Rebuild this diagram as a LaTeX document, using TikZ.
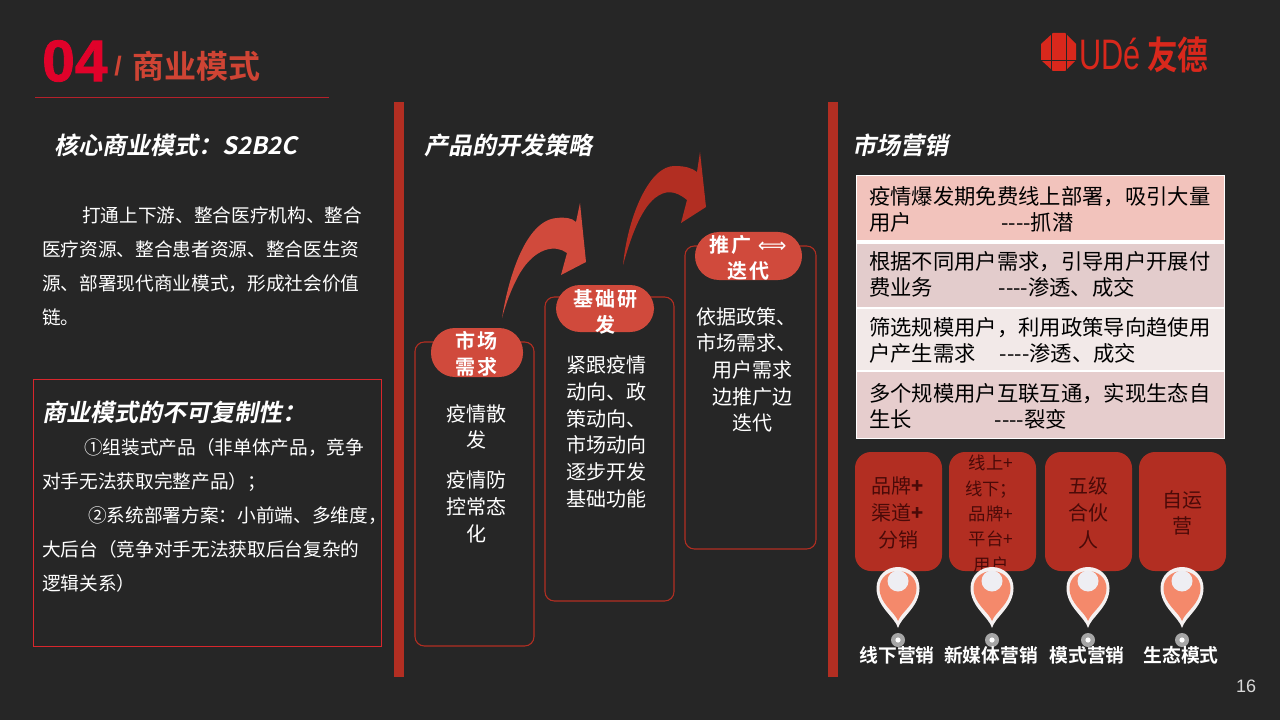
\documentclass[tikz,border=0pt]{standalone}
\usepackage{fontspec}
\setmainfont{Liberation Sans}
\newfontfamily\numfont[FakeBold=1.5]{Liberation Sans Bold}
\newfontfamily\cjk{Noto Sans CJK SC}
\newfontfamily\cjkbold{Noto Sans CJK SC Bold}
\newfontfamily\cjkhead[FakeSlant=0.2]{Noto Sans CJK SC Bold}
\newfontfamily\cjkwide[LetterSpace=10]{Noto Sans CJK SC Bold}
\newfontfamily\arrowfont{DejaVu Sans}
% full width punctuation
\newcommand\cnc{\char"FF0C\relax}
\newcommand\cncolon{\char"FF1A\relax}
\newcommand\cnsemi{\char"FF1B\relax}
\newcommand\cnl{\char"FF08\relax}
\newcommand\cnr{\char"FF09\relax}
\definecolor{pagebg}{HTML}{262626}
\definecolor{barred}{HTML}{B22E22}
\definecolor{pillred}{HTML}{D04A3C}
\definecolor{numred}{HTML}{E0022A}
\definecolor{titlered}{HTML}{CF4434}
\definecolor{logored}{HTML}{D9281C}
\definecolor{rulered}{HTML}{B5202A}
\definecolor{boxred}{HTML}{D8262C}
\definecolor{rowa}{HTML}{F2C3BC}
\definecolor{rowb}{HTML}{E3CCCC}
\definecolor{rowc}{HTML}{F2E9E8}
\definecolor{rowd}{HTML}{E6CDCD}
\definecolor{pinorange}{HTML}{F4896B}
\definecolor{pinwhite}{HTML}{F5F1F1}
\definecolor{pincap}{HTML}{EEEEF3}
\definecolor{cardtext}{HTML}{4A0A08}
\tikzset{
  headtext/.style={font=\cjkhead\fontsize{18}{24}\selectfont,text=white,anchor=west,inner sep=0pt},
  bodytext/.style={font=\cjk\fontsize{14}{25.5}\selectfont,text=white,anchor=west,align=left,inner sep=0pt},
  coltext/.style={font=\cjk\fontsize{15}{20}\selectfont,text=white,align=center,inner sep=0pt},
  rowtext/.style={font=\cjk\fontsize{16}{19.5}\selectfont,text=black,anchor=west,align=left,inner sep=0pt},
  cardtxt/.style={font=\cjk\fontsize{15}{20}\selectfont,text=cardtext,align=center,inner sep=0pt},
  pilltext/.style={font=\cjkwide\fontsize{15}{19.5}\selectfont,text=white,align=center,inner sep=0pt},
  pintext/.style={font=\cjkbold\fontsize{14.1}{20}\selectfont,text=white,inner sep=0pt},
  colbox/.style={draw=barred,line width=0.8pt,rounded corners=7pt},
  pillbox/.style={fill=pillred,rounded corners=18pt},
  cardbox/.style={fill=barred,rounded corners=12pt},
  mappin/.pic={
    \fill[pinwhite] (0,61) .. controls (-3,50) and (-21.5,40) .. (-21.5,21)
      .. controls (-21.5,9) and (-12,0) .. (0,0)
      .. controls (12,0) and (21.5,9) .. (21.5,21)
      .. controls (21.5,40) and (3,50) .. (0,61) -- cycle;
    \fill[pinorange] (0,54) .. controls (-3,45) and (-18.5,37) .. (-18.5,21)
      .. controls (-18.5,11) and (-10,4) .. (0,4)
      .. controls (10,4) and (18.5,11) .. (18.5,21)
      .. controls (18.5,37) and (3,45) .. (0,54) -- cycle;
    \fill[pincap] (0,14) circle (10.5);
    \fill[gray!70] (0,73) circle (7);
    \fill[white] (0,73) circle (2.6);
  }
}
\begin{document}
\begin{tikzpicture}[x=0.75pt,y=-0.75pt]
\useasboundingbox (0,0) rectangle (1280,720);
\fill[pagebg] (0,0) rectangle (1280,720);

% title
\node[font=\numfont\fontsize{44}{44}\selectfont,text=numred,anchor=west,inner sep=0pt] (num) at (42,61) {04};
\node[font=\bfseries\fontsize{20}{20}\selectfont,text=titlered,anchor=west,inner sep=0pt] (slash) at (114,66) {/};
\node[font=\cjkbold\fontsize{24}{24}\selectfont,text=titlered,anchor=west,inner sep=0pt] (title) at (132,66) {商业模式};
\draw[rulered,line width=0.6pt] (35,97) -- (329,97);

% logo
\fill[logored] (1053,33) -- (1065,33) -- (1076,44) -- (1076,60) -- (1065,71) -- (1053,71) -- (1041,60) -- (1041,44) -- cycle;
\draw[pagebg,line width=0.6pt] (1051,33) -- (1051,71);
\draw[pagebg,line width=0.6pt] (1066,33) -- (1066,71);
\draw[pagebg,line width=0.6pt] (1041,60) -- (1076,60);
\node[font=\fontsize{32}{32}\selectfont,text=logored,xscale=0.72,anchor=west,inner sep=0pt] (logoen) at (1079,54) {UDé};
\node[font=\cjkbold\fontsize{23}{23}\selectfont,text=logored,yscale=1.25,anchor=west,inner sep=0pt] (logocn) at (1147,55) {友德};

% bars
\fill[barred] (394,102) rectangle (404,677);
\fill[barred] (828,102) rectangle (838,677);

% headers
\node[headtext] (headA) at (54,145) {核心商业模式\cncolon S2B2C};
\node[headtext] (headB) at (424,145) {产品的开发策略};
\node[headtext] (headC) at (852,145) {市场营销};

% left column
\node[bodytext] (para) at (42,266) {\hspace{30pt}打通上下游、整合医疗机构、整合\\医疗资源、整合患者资源、整合医生资\\源、部署现代商业模式\cnc 形成社会价值\\链。};
\draw[boxred,line width=0.5pt] (33,379) rectangle (381,646);
\node[headtext] (boxhead) at (42,412) {商业模式的不可复制性\cncolon};
\node[bodytext] (boxtext) at (42,515) {\hspace{31.5pt}①组装式产品\cnl 非单体产品\cnc 竞争\\对手无法获取完整产品\cnr\cnsemi\\\hspace{34.5pt}②系统部署方案\cncolon 小前端、多维度\cnc\\大后台\cnl 竞争对手无法获取后台复杂的\\逻辑关系\cnr};

% swoosh arrows
\fill[pillred] (502,318) .. controls (508,280) and (525,220) .. (557,218)
  .. controls (565,217) and (572,218) .. (576,222) -- (580,203) -- (586,262) -- (561,275) -- (567,253)
  .. controls (555,244) and (535,248) .. (520,273) .. controls (512,287) and (506,303) .. (502,318) -- cycle;
\fill[barred] (623,265) .. controls (628,215) and (650,165) .. (675,166)
  .. controls (685,166) and (692,168) .. (697,172) -- (700,152) -- (706,207) -- (681,223) -- (687,200)
  .. controls (675,190) and (665,190) .. (655,198) .. controls (640,210) and (630,240) .. (623,265) -- cycle;

% product columns
\draw[colbox] (415,342) rectangle (534,646);
\draw[colbox] (545,297) rectangle (674,601);
\draw[colbox] (685,246) rectangle (816,549);
\fill[pillbox] (431,328) rectangle (523,377);
\fill[pillbox] (556,285) rectangle (654,332);
\fill[pillbox] (695,232) rectangle (802,280);
\node[pilltext] (pillA) at (476,354) {市场\\需求};
\node[pilltext] (pillB) at (605,312) {基础研\\发};
\node[pilltext] (pillC) at (748,258) {推广 {\arrowfont ⟺}\\迭代};
\node[coltext] (colAa) at (476,427) {疫情散\\发};
\node[coltext] (colAb) at (476,507) {疫情防\\控常态\\化};
\node[coltext,align=left] (colB) at (606,432) {紧跟疫情\\动向、政\\策动向、\\市场动向\\逐步开发\\基础功能};
\node[coltext] (colC) at (746,370) {依据政策、\\市场需求、\\\hspace{10pt}用户需求\\\hspace{10pt}边推广边\\\hspace{10pt}迭代};

% marketing table
\fill[white] (856,175) rectangle (1225,439);
\fill[rowa] (857,176) rectangle (1224,240);
\fill[rowb] (857,244) rectangle (1224,307);
\fill[rowc] (857,309) rectangle (1224,370);
\fill[rowd] (857,372) rectangle (1224,438);
\node[rowtext] (rowA) at (869,209) {疫情爆发期免费线上部署\cnc 吸引大量\\用户\hspace{67pt}----抓潜};
\node[rowtext] (rowB) at (869,274) {根据不同用户需求\cnc 引导用户开展付\\费业务\hspace{49pt}----渗透、成交};
\node[rowtext] (rowC) at (869,340) {筛选规模用户\cnc 利用政策导向趋使用\\户产生需求\hspace{18pt}----渗透、成交};
\node[rowtext] (rowD) at (869,406) {多个规模用户互联互通\cnc 实现生态自\\生长\hspace{62pt}----裂变};

% cards
\fill[cardbox] (855,452) rectangle (942,571);
\fill[cardbox] (949,452) rectangle (1036,571);
\fill[cardbox] (1045,452) rectangle (1132,571);
\fill[cardbox] (1139,452) rectangle (1226,571);
\node[cardtxt] (cardA) at (898,513) {品牌\textbf{+}\\渠道\textbf{+}\\分销};
\node[cardtxt,font=\cjk\fontsize{13}{19}\selectfont] (cardB) at (991,514) {线上+\\线下\cnsemi\\品牌+\\平台+\\用户};
\node[cardtxt] (cardC) at (1088,513) {五级\\合伙\\人};
\node[cardtxt] (cardD) at (1182,513) {自运\\营};

% pins
\pic (pinA) at (898,567) {mappin};
\pic (pinB) at (992,567) {mappin};
\pic (pinC) at (1088,567) {mappin};
\pic (pinD) at (1182,567) {mappin};
\node[pintext] (labelA) at (897,655) {线下营销};
\node[pintext] (labelB) at (991,655) {新媒体营销};
\node[pintext] (labelC) at (1087,655) {模式营销};
\node[pintext] (labelD) at (1181,655) {生态模式};

\node[font=\fontsize{13.5}{13.5}\selectfont,text=white!85!black,inner sep=0pt] (pageno) at (1246,686) {16};
\end{tikzpicture}
\end{document}
